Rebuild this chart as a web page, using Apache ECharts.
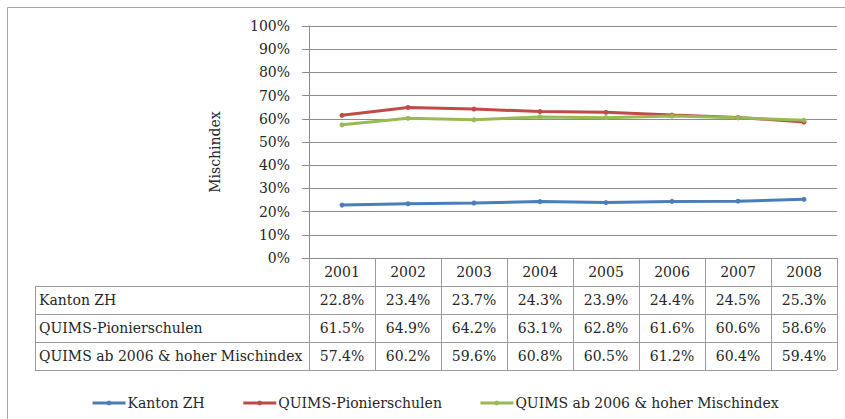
<!DOCTYPE html>
<html><head><meta charset="utf-8">
<script src="https://cdn.jsdelivr.net/npm/echarts@6/dist/echarts.min.js"></script>
<style>html,body{margin:0;padding:0;background:#fff}#c{width:845px;height:419px}</style>
</head><body><div id="c"></div>
<script>
const years = ['2001','2002','2003','2004','2005','2006','2007','2008'];
const kantonZH = [22.8, 23.4, 23.7, 24.3, 23.9, 24.4, 24.5, 25.3];
const pionier = [61.5, 64.9, 64.2, 63.1, 62.8, 61.6, 60.6, 58.6];
const quims = [57.4, 60.2, 59.6, 60.8, 60.5, 61.2, 60.4, 59.4];
const seriesNames = ['Kanton ZH', 'QUIMS-Pionierschulen', 'QUIMS ab 2006 & hoher Mischindex'];
const seriesData = [kantonZH, pionier, quims];
const yAxisTitle = 'Mischindex';

const FONT = 'DejaVu Serif';
const TXT = '#262626';
const GRID = '#8c8c8c';
const colors = ['#4A7EBB', '#BE4B48', '#98B954'];

const chart = echarts.init(document.getElementById('c'), null, {renderer: 'svg'});
chart.setOption({
  animation: false,
  textStyle: {fontFamily: FONT},
  grid: {left: 309, top: 26, width: 528, height: 232},
  xAxis: {type: 'category', data: years, boundaryGap: true,
    axisLine: {lineStyle: {color: GRID}}, axisTick: {show: false}, axisLabel: {show: false}},
  yAxis: {type: 'value', min: 0, max: 100, interval: 10,
    axisLine: {show: true, lineStyle: {color: GRID}},
    axisTick: {show: true, length: 7, lineStyle: {color: GRID}},
    axisLabel: {formatter: '{value}%', margin: 19, color: TXT, fontSize: 14, fontFamily: FONT},
    splitLine: {lineStyle: {color: GRID}}},
  legend: {left: 86, top: 391, itemWidth: 33, itemHeight: 6, itemGap: 37,
    lineStyle: {width: 3},
    textStyle: {fontSize: 14, color: TXT, fontFamily: FONT, padding: [0, 0, 0, -3]},
    data: seriesNames},
  series: seriesNames.map((n, i) => ({
    name: n, type: 'line', data: seriesData[i], symbol: 'circle', symbolSize: 5,
    lineStyle: {width: 3, color: colors[i]}, itemStyle: {color: colors[i]}
  }))
});

const x0 = chart.convertToPixel({xAxisIndex: 0}, years[0]);
const x1 = chart.convertToPixel({xAxisIndex: 0}, years[1]);
const colW = x1 - x0;
const left = x0 - colW / 2;
const right = left + colW * years.length;
const yBase = chart.convertToPixel({yAxisIndex: 0}, 0);
const rowH = 28;
const tableLeft = 35;
const LINE = '#9a9a9a';
const g = [];
const px = v => Math.round(v) + 0.5;
g.push({type: 'rect', shape: {x: 7.5, y: 7.5, width: 900, height: 500},
  style: {fill: 'none', stroke: '#a6a6a6', lineWidth: 1}, silent: true});
for (let k = 1; k <= 4; k++) {
  g.push({type: 'line', shape: {x1: tableLeft, y1: px(yBase + rowH * k), x2: right, y2: px(yBase + rowH * k)},
    style: {stroke: LINE, lineWidth: 1}});
}
for (let i = 0; i <= years.length; i++) {
  g.push({type: 'line', shape: {x1: px(left + colW * i), y1: yBase, x2: px(left + colW * i), y2: yBase + rowH * 4},
    style: {stroke: LINE, lineWidth: 1}});
}
g.push({type: 'line', shape: {x1: px(tableLeft), y1: yBase + rowH, x2: px(tableLeft), y2: yBase + rowH * 4},
  style: {stroke: LINE, lineWidth: 1}});
const font = '14px "' + FONT + '"';
years.forEach((y, i) => {
  const cx = chart.convertToPixel({xAxisIndex: 0}, y);
  g.push({type: 'text', x: cx, y: yBase + rowH / 2, style: {text: y, font, fill: TXT, textAlign: 'center', textVerticalAlign: 'middle'}});
  seriesData.forEach((arr, r) => {
    g.push({type: 'text', x: cx, y: yBase + rowH * (r + 1.5),
      style: {text: arr[i].toFixed(1) + '%', font, fill: TXT, textAlign: 'center', textVerticalAlign: 'middle'}});
  });
});
seriesNames.forEach((n, r) => {
  g.push({type: 'text', x: tableLeft + 4, y: yBase + rowH * (r + 1.5),
    style: {text: n, font, fill: TXT, textAlign: 'left', textVerticalAlign: 'middle'}});
});
g.push({type: 'text', x: 215, y: 152, rotation: Math.PI / 2,
  style: {text: yAxisTitle, font, fill: TXT, textAlign: 'center', textVerticalAlign: 'middle'}});
chart.setOption({graphic: g});
</script></body></html>
